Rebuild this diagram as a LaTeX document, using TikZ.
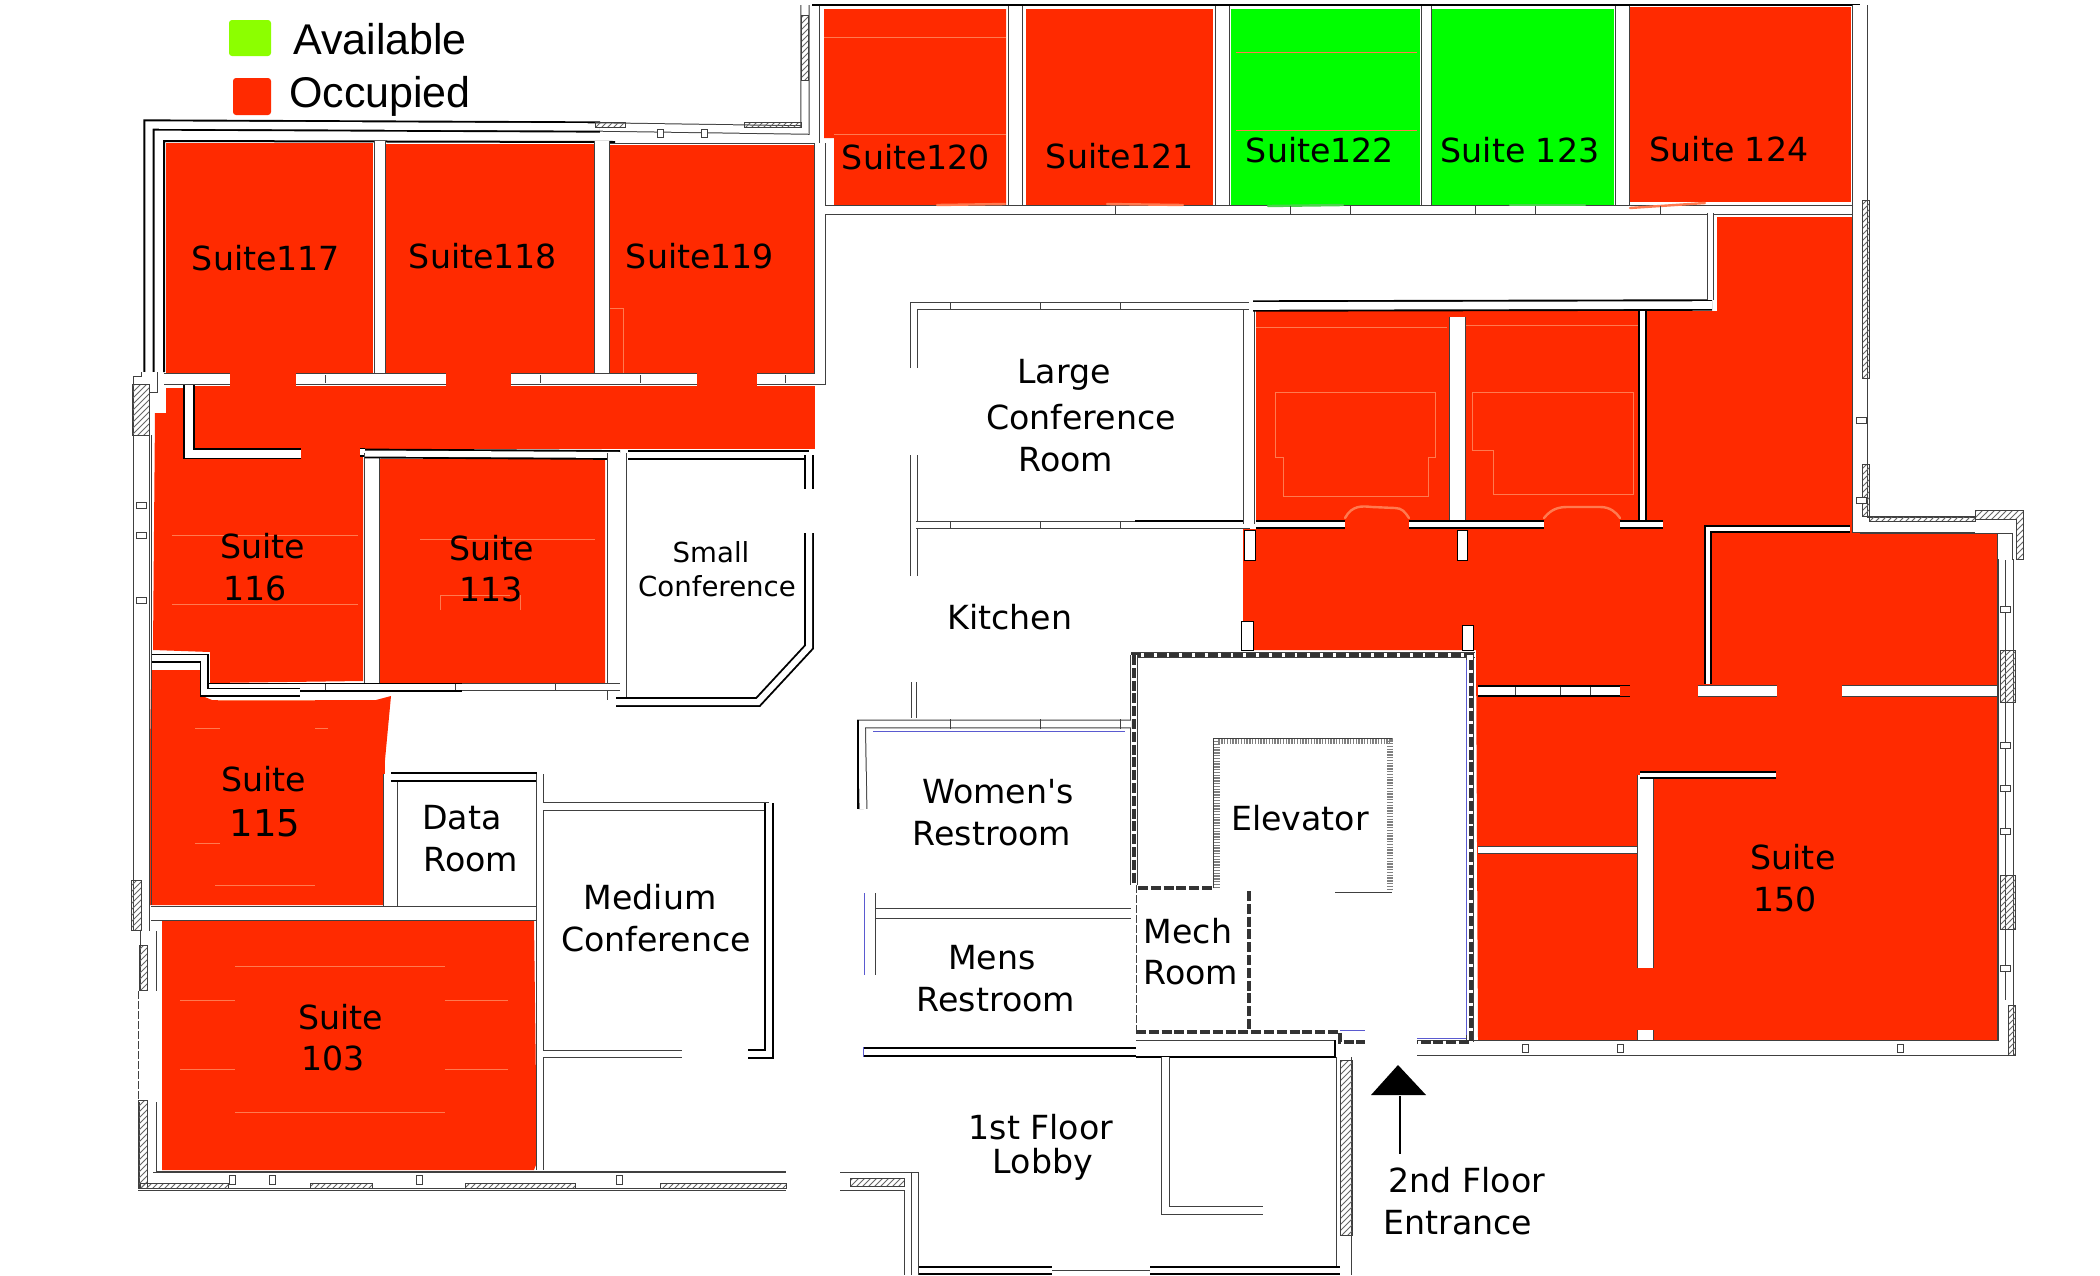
\documentclass[tikz,border=0pt]{standalone}
\usepackage{fontspec}
\setmainfont{DejaVu Sans}
\newfontfamily\plainfont{DejaVu Sans}
\newfontfamily\legendfont{Liberation Sans}
\usetikzlibrary{patterns}
\definecolor{occ}{HTML}{FF2A00}
\definecolor{avail}{HTML}{00FF00}
\definecolor{legavail}{HTML}{8CFF00}
\definecolor{wallc}{HTML}{404040}
\definecolor{faint}{HTML}{FF7A50}
\definecolor{bluepen}{HTML}{5A5AD0}
\tikzset{
  occfill/.style={fill=occ,draw=none},
  availfill/.style={fill=avail,draw=none},
  wl/.style={draw=wallc,line width=.5pt,double=white,double distance=#1,line join=miter},
  wlb/.style={draw=black,line width=.95pt,double=white,double distance=#1,line join=miter},
  thin line/.style={draw=wallc,line width=.5pt},
  heavy/.style={draw=black,line width=1pt},
  hatchband/.style={pattern=north east lines,pattern color=black!60,draw=wallc,line width=.3pt},
  elevw/.style={draw=black!50,line width=2.6pt,dash pattern=on .7pt off .7pt},
  corew/.style={draw=black!80,line width=1.8pt,dash pattern=on 5pt off 1.4pt},
  fline/.style={draw=faint,line width=.35pt},
  doorred/.style={draw=faint,line width=1.2pt,line cap=round},
  doorgreen/.style={draw=green!75!black!70,line width=1.2pt,line cap=round},
  blueline/.style={draw=bluepen,line width=.45pt},
  pillmark/.style={draw=wallc,line width=.4pt,fill=white},
  tickmark/.style={draw=wallc,line width=.35pt},
  lab/.style={anchor=base,inner sep=0pt,font=\fontsize{16.6}{18}\selectfont},
  labt/.style={anchor=base,inner sep=0pt,font=\fontsize{13.8}{16}\selectfont},
  labb/.style={anchor=base,inner sep=0pt,font=\fontsize{18.5}{20}\selectfont},
  leg/.style={anchor=base,inner sep=0pt,font=\legendfont\fontsize{21.5}{24}\selectfont},
}
\begin{document}
\begin{tikzpicture}[x=.5pt,y=-.5pt]
\useasboundingbox (0,0) rectangle (2100,1275);
\fill[white] (0,0) rectangle (2100,1275);
% ---- legend
\fill[legavail,rounded corners=1.5pt] (229,20) rectangle (271,56);
\fill[occ,rounded corners=1.5pt] (233,78) rectangle (271,115);
\node[leg] (legA) at (380,54) {Available};
\node[leg] (legO) at (380,107) {Occupied};
% ---- occupied and available areas
\fill[occfill] (166,143) rectangle (373,375);
\fill[occfill] (230,375) rectangle (296,392);
\fill[occfill] (386,144) rectangle (594,373);
\fill[occfill] (446,373) rectangle (511,392);
\fill[occfill] (605,145) rectangle (815,374);
\fill[occfill] (697,374) rectangle (757,392);
\fill[occfill] (190,386) rectangle (815,449);
\fill[occfill] (155,413) -- (166,413) -- (166,388) -- (190,388) -- (190,458) -- (301,458) -- (301,449) -- (360,449) -- (363,458) -- (363,681) -- (210,683) -- (210,652) -- (153,650) -- cycle;
\fill[occfill] (380,459) -- (605,459) -- (605,683) -- (380,687) -- cycle;
\fill[occfill] (151,670) -- (200,670) -- (200,695) -- (212,700) -- (376,700) -- (391,696) -- (385,760) -- (383,905) -- (148,905) -- cycle;
\fill[occfill] (162,920) -- (534,920) -- (536,1086) -- (541,1152) -- (534,1170) -- (162,1170) -- cycle;
\fill[occfill] (824,9) -- (1006,9) -- (1006,205) -- (834,205) -- (834,138) -- (824,138) -- cycle;
\fill[occfill] (1026,9) rectangle (1213,205);
\fill[availfill] (1231,9) rectangle (1420,205);
\fill[availfill] (1432,9) rectangle (1614,205);
\fill[occfill] (1628,7) rectangle (1851,202);
\fill[occfill] (1717,217) -- (1852,217) -- (1852,533) -- (1997,533) -- (1997,1041) -- (1478,1040) -- (1476,650) -- (1243,650) -- (1243,529) -- (1256,529) -- (1256,311) -- (1717,311) -- cycle;
% ---- faint lines on the fills
\draw[fline] (1256,327) -- (1447,327) (1466,325) -- (1639,325);
\draw[fline] (1275,392) -- (1435,392) -- (1435,457) -- (1428,457) -- (1428,496) -- (1283,496) -- (1283,457) -- (1275,457) -- cycle;
\draw[fline] (1472,392) -- (1633,392) -- (1633,494) -- (1493,494) -- (1493,450) -- (1472,450) -- cycle;
\draw[fline] (235,966) -- (445,966) (180,1000) -- (235,1000) (445,1000) -- (508,1000) (180,1069) -- (235,1069) (445,1069) -- (508,1069) (235,1112) -- (445,1112);
\draw[fline] (172,535) -- (358,535) (172,604) -- (358,604) (420,539) -- (595,539) (440,595) -- (510,595) (440,595) -- (440,610) (520,595) -- (520,610);
\draw[fline] (218,700) -- (315,700) (195,728) -- (220,728) (315,728) -- (328,728) (195,843) -- (220,843) (215,885) -- (315,885);
\draw[fline] (824,37) -- (1006,37) (834,134) -- (1006,134);
\draw[fline] (1236,52) -- (1417,52) (1236,130) -- (1417,130);
\draw[fline] (623,308) -- (623,374) (605,308) -- (623,308);
% ---- walls, top left block
\draw[wlb=3.7pt] (149,372) -- (149,125) -- (600,127);
\draw[heavy] (164,372) -- (164,141) -- (615,142);
\draw[wl=3.7pt] (600,127) -- (805,130) -- (805,5);
\draw[thin line] (610,143) -- (819,143) -- (819,5);
\fill[hatchband] (595,122) rectangle (625,127);
\fill[hatchband] (744,122) rectangle (801,127);
\fill[hatchband] (801,15) rectangle (808,80);
\foreach \x in {660,704} \draw[pillmark] (\x-3,129) rectangle (\x+3,137);
\draw[wl=5.2pt] (380,141) -- (380,375);
\draw[wl=6.8pt] (602,141) -- (602,375);
\draw[wl=4.6pt] (164,379) -- (230,379);
\draw[wl=4.6pt] (296,379) -- (446,379);
\draw[wl=4.6pt] (511,379) -- (697,379);
\draw[wl=4.6pt] (757,379) -- (820,379) -- (820,143);
% ---- top row
\draw[heavy] (812,5) -- (1860,5);
\draw[wl=6.5pt] (1015,6) -- (1015,210);
\draw[wl=6.5pt] (1222,6) -- (1222,210);
\draw[wl=4.5pt] (1426,6) -- (1426,210);
\draw[wl=6.5pt] (1622,6) -- (1622,210);
\draw[wl=3.6pt] (825,210) -- (1853,210);
\draw[doorred] (937,205) -- (1005,204);
\draw[doorred] (1107,204) -- (1183,205);
\draw[doorgreen] (1268,206) -- (1343,205);
\draw[doorgreen] (1510,205) -- (1585,205);
\draw[doorred] (1630,208) -- (1705,203);
% ---- corridor walls, left
\draw[wlb=4pt] (301,453.5) -- (189,453.5) -- (189,385);
\draw[wlb=2.6pt] (360,452) -- (365,452);
\draw[wl=7pt] (371.5,453) -- (371.5,687);
\draw[wlb=3pt] (365,453.5) -- (620,455);
\draw[wl=9pt] (616.5,453) -- (616.5,700);
\draw[wlb=3pt] (628,455) -- (809,455);
\draw[wlb=3pt] (809,455) -- (809,489);
\draw[wlb=3pt] (809,533) -- (809,647) -- (758,702) -- (616,702);
\draw[wlb=2.6pt] (207,687) -- (462,687);
\draw[wl=2.6pt] (462,687) -- (620,687);
\draw[wlb=2.6pt] (151,658) -- (204,658) -- (204,692) -- (300,692);
% ---- left outer wall
\draw[wl=7.5pt] (149,372) -- (149,384) -- (141,384) -- (141,931);
\fill[hatchband] (132,384) rectangle (149,435);
\fill[hatchband] (131,880) rectangle (141,930);
\draw[thin line] (151,435) -- (151,905);
\draw[wl=7.5pt] (148,931) -- (148,991);
\fill[hatchband] (139,945) rectangle (147,990);
\draw[thin line, dash pattern=on 4pt off 1pt] (138,991) -- (138,1102);
\draw[wl=8pt] (148,1102) -- (148,1180) -- (786,1180);
\fill[hatchband] (138,1100) rectangle (147,1188);
\fill[hatchband] (140,1183) rectangle (228,1188);
\fill[hatchband] (310,1183) rectangle (372,1188);
\fill[hatchband] (465,1183) rectangle (575,1188);
\fill[hatchband] (660,1183) rectangle (786,1188);
\draw[thin line] (138,1190) -- (786,1190);
\draw[thin line] (153,1172) -- (786,1172);
\foreach \x in {232,272,419,619} \draw[pillmark] (\x-3,1175) rectangle (\x+3,1184);
\foreach \y in {505,535,600} \draw[pillmark] (136,\y-3) rectangle (146,\y+3);
% ---- data room and medium conference
\draw[wl=6.5pt] (390.5,774) -- (390.5,906);
\draw[wlb=3.4pt] (391,777) -- (537,777);
\draw[wl=6.5pt] (151,913) -- (539,913);
\draw[wl=3pt] (539.5,774) -- (539.5,1170);
\draw[wl=3.4pt] (543,806.5) -- (769,806.5);
\draw[wlb=3pt] (769,803) -- (769,1054) -- (748,1054);
\draw[wl=3.4pt] (543,1054) -- (682,1054);
% ---- kitchen and large conference
\draw[wl=3pt] (913.5,368) -- (913.5,306) -- (1249,306);
\draw[wl=3pt] (913.5,576) -- (913.5,455);
\draw[wl=3.4pt] (916,525) -- (1250,525);
\draw[heavy] (1135,521) -- (1250,521);
\draw[wl=5pt] (1249,310) -- (1249,524);
% ---- suite 150 interior walls
\draw[wlb=3.8pt] (1253,306) -- (1712,305);
\draw[wl=2.8pt] (1710.5,300) -- (1710.5,213);
\draw[wl=7.5pt] (1457,317) -- (1457,525);
\draw[wlb=2.6pt] (1642.5,311) -- (1642.5,525);
\draw[wlb=2.6pt] (1256,524.5) -- (1345,524.5);
\draw[wlb=2.6pt] (1409,524.5) -- (1544,524.5);
\draw[wlb=2.6pt] (1620,524.5) -- (1663,524.5);
\draw[doorred] (1345,518) .. controls (1352,505) and (1362,506) .. (1372,507) -- (1395,508) .. controls (1402,508) and (1405,512) .. (1409,518);
\draw[doorred] (1544,518) .. controls (1552,508) and (1560,507) .. (1568,507) -- (1600,507) .. controls (1610,507) and (1616,512) .. (1620,518);
\draw[draw=black,line width=.4pt,fill=white] (1244,530) rectangle (1255,560);
\draw[draw=black,line width=.4pt,fill=white] (1457,530) rectangle (1467,560);
\draw[draw=black,line width=.4pt,fill=white] (1241,621) rectangle (1253,650);
\draw[draw=black,line width=.4pt,fill=white] (1462,625) rectangle (1473,650);
\draw[wlb=3.8pt] (1478,691) -- (1630,691);
\fill[occ] (1620,686) rectangle (1630,696);
\draw[wlb=2.4pt] (1850,529) -- (1708,529) -- (1708,684);
\draw[wl=5pt] (1698,691) -- (1777,691);
\draw[wl=5pt] (1842,691) -- (1997,691);
\draw[wl=3pt] (1478,849.5) -- (1640,849.5);
\draw[wl=7.5pt] (1645,968) -- (1645,775);
\draw[wlb=1.8pt] (1640,775) -- (1776,775);
\draw[wl=7.5pt] (1645,1030) -- (1645,1041);
% ---- outer wall, right
\draw[wl=7pt] (1860,5) -- (1860,525) -- (1975,525);
\draw[wl=7pt] (2006,559) -- (2006,1048) -- (1417,1048);
\draw[thin line] (1860,533) -- (1997,533) -- (1997,1041);
\fill[hatchband] (1862,200) rectangle (1869,378);
\fill[hatchband] (1862,464) rectangle (1869,516);
\fill[hatchband] (1869,516) rectangle (1975,521);
\fill[hatchband] (1975,510) -- (2023,510) -- (2023,559) -- (2016,559) -- (2016,519) -- (1975,519) -- cycle;
\draw[thin line] (2005,560) -- (2005,1000);
\draw[thin line] (1997,533) -- (2012,533) -- (2012,560);
\fill[hatchband] (2000,650) rectangle (2015,702);
\fill[hatchband] (2000,875) rectangle (2015,929);
\fill[hatchband] (2008,1005) rectangle (2015,1055);
\foreach \y in {609,745,788,831,968} \draw[pillmark] (2000,\y-3) rectangle (2010,\y+3);
\foreach \y in {420,500} \draw[pillmark] (1856,\y-3) rectangle (1866,\y+3);
\foreach \x in {1525,1620,1900} \draw[pillmark] (\x-3,1044) rectangle (\x+3,1052);
% ---- circulation core
\draw[wl=2.4pt] (1131,655) -- (1475,655);
\draw[corew] (1131,655) -- (1475,655);
\draw[wl=2.6pt] (1134,655) -- (1134,885);
\draw[corew] (1134,655) -- (1134,885);
\draw[wl=2.8pt] (1470,655) -- (1470,1042);
\draw[corew] (1471,660) -- (1471,1042) -- (1417,1042);
\draw[blueline] (1466,660) -- (1466,1035) (1417,1038) -- (1466,1038) (1340,1030) -- (1365,1030);
\draw[thin line,dash pattern=on 4pt off 1pt] (1136,885) -- (1136,1032);
\draw[corew] (1138,888) -- (1213,888);
\draw[corew] (1249,891) -- (1249,1030);
\draw[corew] (1136,1032) -- (1340,1032) -- (1340,1042) -- (1365,1042);
% ---- elevator
\draw[elevw] (1217,888) -- (1217,741) -- (1390,741) -- (1390,891);
\draw[thin line] (1335,892) -- (1392,892);
\draw[thin line] (1213,888) -- (1213,738) -- (1392,738);
% ---- restrooms
\draw[wl=3.4pt] (863,809) -- (861.5,724) -- (1131,724);
\draw[heavy] (858,720) -- (858,809);
\draw[blueline] (873,731) -- (1125,731);
\draw[wl=2pt] (914,682) -- (914,718);
\draw[wl=4.5pt] (864,913) -- (1131,913);
\draw[wl=5pt] (870,893) -- (870,975);
\draw[blueline] (864,893) -- (864,975);
\draw[wlb=2.8pt] (863,1052) -- (1136,1052);
\draw[blueline] (863,1047) -- (863,1057);
% ---- lobby
\draw[wl=7.5pt] (1136,1048) -- (1335,1048);
\draw[heavy] (1136,1057) -- (1335,1057) -- (1335,1040);
\draw[wl=3.5pt] (1165,1057) -- (1165,1210) -- (1263,1210);
\draw[wl=7pt] (1344,1057) -- (1344,1275);
\fill[hatchband] (1340,1060) rectangle (1352,1235);
\draw[wl=3pt] (915,1172) -- (915,1275);
\fill[hatchband] (850,1178) rectangle (904,1186);
\draw[thin line] (840,1172) -- (919,1172) (840,1190) -- (904,1190) -- (904,1275);
\draw[thin line] (919,1270) -- (1340,1270);
\draw[wlb=2.4pt] (919,1270.5) -- (1052,1270.5);
\draw[wlb=2.4pt] (1150,1270.5) -- (1340,1270.5);
% ---- small marks in the walls
\foreach \x in {1115,1290,1350,1475,1535,1660} \draw[tickmark] (\x,206) -- (\x,214);
\foreach \x in {325,455,555} \draw[tickmark] (\x,684) -- (\x,690);
\foreach \x in {325,540,640,785} \draw[tickmark] (\x,375) -- (\x,383);
\foreach \x in {950,1040,1120} \draw[tickmark] (\x,302) -- (\x,310) (\x,521) -- (\x,529) (\x,719) -- (\x,729);
\foreach \x in {1515,1560,1590} \draw[tickmark] (\x,687) -- (\x,695);
% ---- entrance arrow
\coordinate (arrowtip) at (1398,1065);
\coordinate (arrowtail) at (1400,1154);
\coordinate (arrowbase) at (1400,1096);
\fill[black] (arrowtip) -- (1426,1095) -- (1371,1095) -- cycle;
\draw[black,line width=1.1pt] (arrowbase) -- (arrowtail);
% ---- labels
\node[lab] (s117) at (266,270) {Suite117};
\node[lab] (s118) at (483,268) {Suite118};
\node[lab] (s119) at (700,268) {Suite119};
\node[lab] (s120) at (916,169) {Suite120};
\node[lab] (s121) at (1120,168) {Suite121};
\node[lab] (s122) at (1320,162) {Suite122};
\node[lab] (s123) at (1520,162) {Suite 123};
\node[lab] (s124) at (1729,161) {Suite 124};
\node[lab] (s116a) at (263,558) {Suite};
\node[lab] (s116b) at (255,600) {116};
\node[lab] (s113a) at (492,560) {Suite};
\node[lab] (s113b) at (491,601) {113};
\node[labt] (smalla) at (711,562) {Small};
\node[labt] (smallb) at (717,596) {Conference};
\node[lab] (s115a) at (264,791) {Suite};
\node[labb] (s115b) at (265,836) {115};
\node[lab] (dataa) at (462,829) {Data};
\node[lab] (datab) at (471,871) {Room};
\node[lab] (meda) at (650,909) {Medium};
\node[lab] (medb) at (656,951) {Conference};
\node[lab] (s103a) at (341,1029) {Suite};
\node[lab] (s103b) at (333,1070) {103};
\node[lab] (largea) at (1064,383) {Large};
\node[lab] (largeb) at (1081,429) {Conference};
\node[lab] (largec) at (1066,471) {Room};
\node[lab] (kitchen) at (1010,629) {Kitchen};
\node[lab] (womena) at (998,803) {\plainfont Women's};
\node[lab] (womenb) at (992,845) {Restroom};
\node[lab] (mensa) at (992,969) {Mens};
\node[lab] (mensb) at (996,1011) {Restroom};
\node[lab] (elev) at (1300,830) {Elevator};
\node[lab] (mecha) at (1188,943) {Mech};
\node[lab] (mechb) at (1191,984) {Room};
\node[lab] (lobbya) at (1041,1139) {1st Floor};
\node[lab] (lobbyb) at (1043,1173) {Lobby};
\node[lab] (enta) at (1467,1192) {2nd Floor};
\node[lab] (entb) at (1458,1234) {Entrance};
\node[lab] (s150a) at (1793,869) {Suite};
\node[lab] (s150b) at (1785,911) {150};
\end{tikzpicture}
\end{document}
